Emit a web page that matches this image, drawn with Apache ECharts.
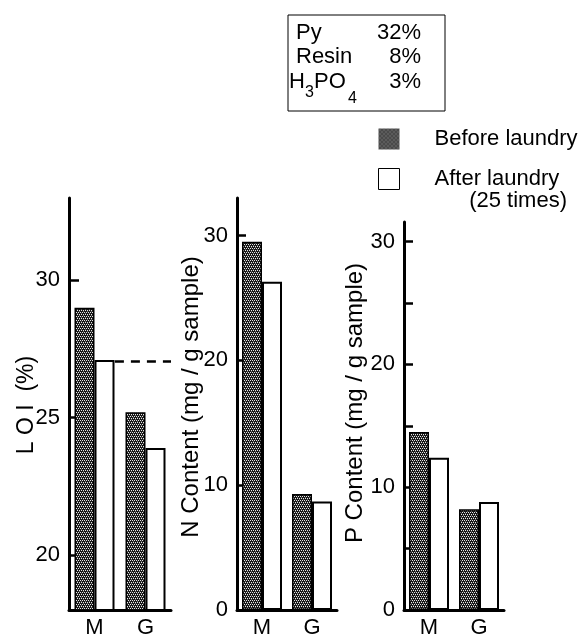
<!DOCTYPE html>
<html>
<head>
<meta charset="utf-8">
<script src="https://cdn.jsdelivr.net/npm/echarts@6/dist/echarts.min.js"></script>
<style>
html,body{margin:0;padding:0;background:#fff;}
#chart{width:588px;height:636px;}
</style>
</head>
<body>
<div id="chart"></div>
<script>
// ---- data ----
const categories = ['M', 'G'];
const loiBefore = [29.0, 25.2];
const loiAfter = [27.1, 23.9];
const nBefore = [29.5, 9.3];
const nAfter = [26.3, 8.7];
const pBefore = [14.5, 8.2];
const pAfter = [12.4, 8.8];
const loiTicks = [20, 25, 30];
const nTicks = [0, 10, 20, 30];
const pLabels = [0, 10, 20, 30];
const pTicks = [0, 5, 10, 15, 20, 25, 30];
const loiRefLevel = 27.05;
const refLineSpan = [0.9, 2];   // in category-unit x (M..G)
const compTable = [['Py', '32%'], ['Resin', '8%']];
const seriesNames = ['Before laundry', 'After laundry'];

// ---- pattern for "before" bars ----
function makePattern() {
  const c = document.createElement('canvas');
  c.width = 4; c.height = 4;
  const ctx = c.getContext('2d');
  ctx.fillStyle = '#161616';
  ctx.fillRect(0, 0, 4, 4);
  ctx.fillStyle = '#e6e6e6';
  [[0,0],[2,0],[1,2],[3,2]].forEach(p => ctx.fillRect(p[0], p[1], 1, 1));
  ctx.fillStyle = '#5a5a5a';
  [[1,1],[3,3]].forEach(p => ctx.fillRect(p[0], p[1], 1, 1));
  return c;
}
const pat = { image: makePattern(), repeat: 'repeat' };

const FONT = 'Liberation Sans, Arial, Helvetica, sans-serif';
const chart = echarts.init(document.getElementById('chart'), null, { renderer: 'canvas' });

function yAxisDef(grid, min, max, labelVals, tickVals, tickLen) {
  return {
    type: 'value', gridIndex: grid, min: min, max: max,
    splitLine: { show: false },
    axisLine: { show: true, lineStyle: { color: '#000', width: 3 } },
    axisTick: { show: true, inside: true, length: tickLen, customValues: tickVals, lineStyle: { color: '#000', width: 2.5 } },
    axisLabel: { show: true, customValues: labelVals, margin: 9, color: '#000', fontSize: 22, fontFamily: FONT }
  };
}
function xAxisDef(grid) {
  return {
    type: 'category', gridIndex: grid, data: categories,
    axisLine: { show: true, onZero: false, lineStyle: { color: '#000', width: 3 } },
    axisTick: { show: false },
    axisLabel: { color: '#000', fontSize: 22, fontFamily: FONT, margin: 7 }
  };
}
function barPair(grid, before, after) {
  return [
    { name: seriesNames[0], type: 'bar', xAxisIndex: grid, yAxisIndex: grid, data: before,
      barWidth: 20, barGap: '0%',
      itemStyle: { color: pat, borderColor: '#000', borderWidth: 1.5 } },
    { name: seriesNames[1], type: 'bar', xAxisIndex: grid, yAxisIndex: grid, data: after,
      barWidth: 20, barGap: '0%',
      itemStyle: { color: '#fff', borderColor: '#000', borderWidth: 2 } }
  ];
}

const txt = (t, x, y, opts) => Object.assign({
  type: 'text', x: x, y: y,
  style: Object.assign({ text: t, fill: '#000', font: '22px ' + FONT, textAlign: 'left', textVerticalAlign: 'middle' }, (opts && opts.style) || {})
}, opts && opts.rotation !== undefined ? { rotation: opts.rotation } : {});

const graphics = [
  { type: 'rect', shape: { x: 288, y: 15, width: 157, height: 96 }, style: { fill: 'none', stroke: '#000', lineWidth: 1 } },
  txt(compTable[0][0], 296, 33),
  txt(compTable[0][1], 421, 33, { style: { textAlign: 'right' } }),
  txt(compTable[1][0], 296, 57),
  txt(compTable[1][1], 421, 57, { style: { textAlign: 'right' } }),
  txt('H', 289, 82),
  txt('3', 305, 93, { style: { font: '16px ' + FONT } }),
  txt('PO', 314, 82),
  txt('4', 348, 99, { style: { font: '16px ' + FONT } }),
  txt('3%', 421, 82, { style: { textAlign: 'right' } }),
  txt('(25 times)', 567, 201, { style: { textAlign: 'right' } }),
  txt('L O I  (%)', 27, 405, { rotation: Math.PI / 2, style: { textAlign: 'center', font: '23px ' + FONT } }),
  txt('N Content (mg / g sample)', 191, 397, { rotation: Math.PI / 2, style: { textAlign: 'center', font: '24px ' + FONT } }),
  txt('P Content (mg / g sample)', 355, 403, { rotation: Math.PI / 2, style: { textAlign: 'center', font: '24px ' + FONT } })
];

const option = {
  animation: false,
  backgroundColor: '#fff',
  legend: {
    orient: 'vertical', left: 373, top: 123,
    itemWidth: 21, itemHeight: 21, itemGap: 18,
    data: [
      { name: seriesNames[0], icon: 'rect', itemStyle: { color: pat, borderWidth: 0 } },
      { name: seriesNames[1], icon: 'rect', itemStyle: { color: '#fff', borderColor: '#000', borderWidth: 1 } }
    ],
    formatter: n => '{a|' + n + '}',
    textStyle: { color: '#000', fontSize: 22, fontFamily: FONT, rich: { a: { fontSize: 22, fontFamily: FONT, padding: [0, 0, 0, 30] } } },
    selectedMode: false
  },
  grid: [
    { left: 69, top: 198, width: 102, height: 412, outerBoundsMode: 'none', containLabel: false },
    { left: 237, top: 198, width: 100, height: 412, outerBoundsMode: 'none', containLabel: false },
    { left: 404, top: 222, width: 100, height: 388, outerBoundsMode: 'none', containLabel: false }
  ],
  xAxis: [
    xAxisDef(0), xAxisDef(1), xAxisDef(2),
    { type: 'value', gridIndex: 0, min: 0, max: 2, show: false }
  ],
  yAxis: [
    yAxisDef(0, 18, 33, loiTicks, loiTicks, 10),
    yAxisDef(1, 0, 33, nTicks, nTicks, 9),
    yAxisDef(2, 0, 31.6, pLabels, pTicks, 9)
  ],
  series: [
    ...barPair(0, loiBefore, loiAfter),
    ...barPair(1, nBefore, nAfter),
    ...barPair(2, pBefore, pAfter),
    { type: 'line', xAxisIndex: 3, yAxisIndex: 0, symbol: 'none', silent: true,
      data: [[refLineSpan[0], loiRefLevel], [refLineSpan[1], loiRefLevel]],
      lineStyle: { color: '#000', width: 2.5, type: [9, 7] } }
  ],
  graphic: graphics
};
chart.setOption(option);
</script>
</body>
</html>
